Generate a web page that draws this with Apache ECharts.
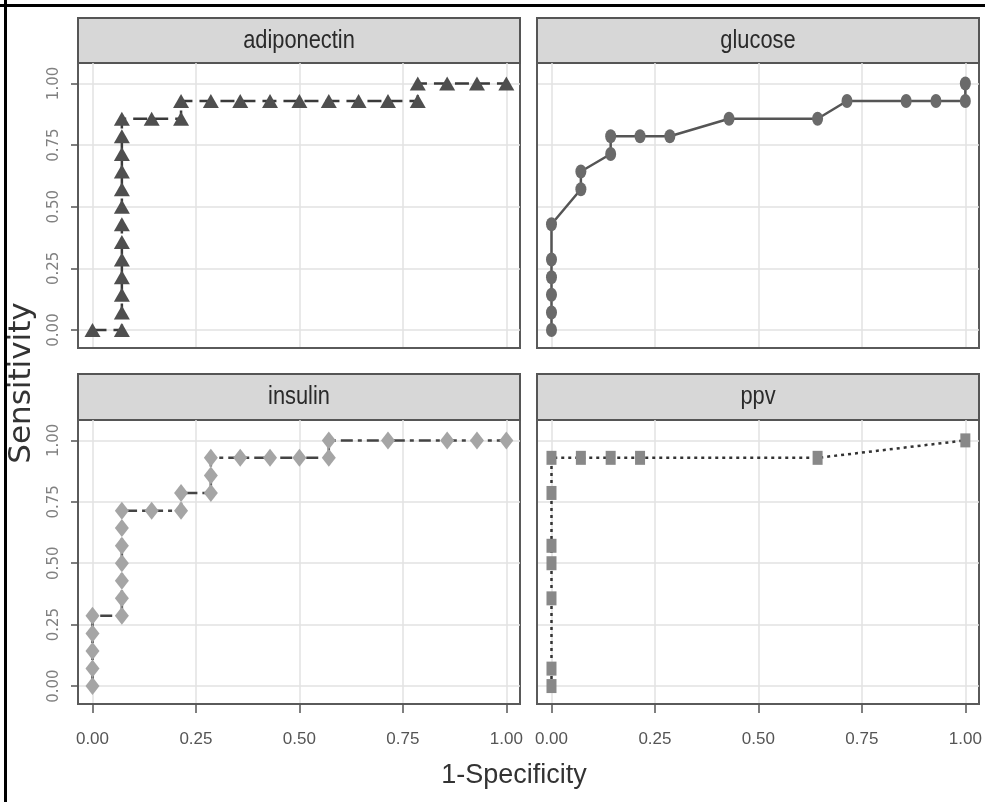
<!DOCTYPE html>
<html>
<head>
<meta charset="utf-8">
<script src="https://cdn.jsdelivr.net/npm/echarts@6/dist/echarts.min.js"></script>
<style>
  html, body { margin: 0; padding: 0; background: #fff; }
  #chart { width: 985px; height: 802px; }
</style>
</head>
<body>
<div id="chart"></div>
<script>
// facet names, in panel order
const panels = ["adiponectin", "glucose", "insulin", "ppv"];
const tickValues = [0, 0.25, 0.5, 0.75, 1];
const tickLabels = ["0.00", "0.25", "0.50", "0.75", "1.00"];

// ROC points: 1-specificity (fpr) and sensitivity (tpr)
const adiponectinFpr = [0, 0.071, 0.071, 0.071, 0.071, 0.071, 0.071, 0.071, 0.071, 0.071, 0.071, 0.071, 0.071, 0.071, 0.143, 0.214, 0.214, 0.286, 0.357, 0.429, 0.5, 0.571, 0.643, 0.714, 0.786, 0.786, 0.857, 0.929, 1];
const adiponectinTpr = [0, 0, 0.071, 0.143, 0.214, 0.286, 0.357, 0.429, 0.5, 0.571, 0.643, 0.714, 0.786, 0.857, 0.857, 0.857, 0.929, 0.929, 0.929, 0.929, 0.929, 0.929, 0.929, 0.929, 0.929, 1, 1, 1, 1];

const glucoseFpr = [0, 0, 0, 0, 0, 0, 0.071, 0.071, 0.143, 0.143, 0.214, 0.286, 0.429, 0.643, 0.714, 0.857, 0.929, 1, 1];
const glucoseTpr = [0, 0.071, 0.143, 0.214, 0.286, 0.429, 0.571, 0.643, 0.714, 0.786, 0.786, 0.786, 0.857, 0.857, 0.929, 0.929, 0.929, 0.929, 1];

const insulinFpr = [0, 0, 0, 0, 0, 0.071, 0.071, 0.071, 0.071, 0.071, 0.071, 0.071, 0.143, 0.214, 0.214, 0.286, 0.286, 0.286, 0.357, 0.429, 0.5, 0.571, 0.571, 0.714, 0.857, 0.929, 1];
const insulinTpr = [0, 0.071, 0.143, 0.214, 0.286, 0.286, 0.357, 0.429, 0.5, 0.571, 0.643, 0.714, 0.714, 0.714, 0.786, 0.786, 0.857, 0.929, 0.929, 0.929, 0.929, 0.929, 1, 1, 1, 1, 1];

const ppvFpr = [0, 0, 0, 0, 0, 0, 0, 0.071, 0.143, 0.214, 0.643, 1];
const ppvTpr = [0, 0.071, 0.357, 0.5, 0.571, 0.786, 0.929, 0.929, 0.929, 0.929, 0.929, 1];

const chart = echarts.init(document.getElementById("chart"));

// panel boxes (plot area) and strip heights
const boxes = [
  { left: 78, top: 63, width: 442, height: 285 },
  { left: 537, top: 63, width: 442, height: 285 },
  { left: 78, top: 420, width: 442, height: 284 },
  { left: 537, top: 420, width: 442, height: 284 }
];
const stripH = [45, 45, 46, 46];

const looks = [
  { symbol: "triangle", size: [16, 14], fill: "#4f4f4f", line: "#3a3a3a", type: [14, 7] },
  { symbol: "circle", size: [11, 14], fill: "#6a6a6a", line: "#555", type: "solid" },
  { symbol: "diamond", size: [14, 18], fill: "#a5a5a5", line: "#444", type: [12, 5, 4, 5] },
  { symbol: "rect", size: [10, 14], fill: "#888", line: "#333", type: [3, 4] }
];
const xs = [adiponectinFpr, glucoseFpr, insulinFpr, ppvFpr];
const ys = [adiponectinTpr, glucoseTpr, insulinTpr, ppvTpr];

const labelOf = v => {
  const i = tickValues.findIndex(t => Math.abs(t - v) < 1e-9);
  return i < 0 ? "" : tickLabels[i];
};

const grid = boxes.map(b => ({
  left: b.left, top: b.top, width: b.width, height: b.height,
  show: true, borderColor: "#5a5a5a", borderWidth: 2, backgroundColor: "#fff"
}));

const xAxis = boxes.map((b, i) => ({
  gridIndex: i,
  type: "value",
  position: "bottom",
  min: -0.035, max: 1.033,
  axisLine: { show: true, onZero: false, lineStyle: { color: "#5a5a5a", width: 2 } },
  axisTick: {
    show: i >= 2, customValues: tickValues, length: 9,
    lineStyle: { color: "#555", width: 1.5 }
  },
  axisLabel: {
    show: i >= 2, customValues: tickValues, formatter: labelOf, margin: 27,
    color: "#555", fontSize: 17,
    fontFamily: "'Liberation Sans Narrow', 'Liberation Sans', sans-serif"
  },
  splitLine: { show: true, lineStyle: { color: "#e2e2e2", width: 1.5 } }
}));

const yAxis = boxes.map((b, i) => ({
  gridIndex: i,
  type: "value",
  position: "left",
  min: -0.073, max: 1.083,
  axisLine: { show: true, onZero: false, lineStyle: { color: "#5a5a5a", width: 2 } },
  axisTick: {
    show: i % 2 === 0, customValues: tickValues, length: 7,
    lineStyle: { color: "#555", width: 1.5 }
  },
  axisLabel: {
    show: i % 2 === 0, customValues: tickValues, formatter: labelOf,
    rotate: 90, margin: 16, color: "#808080", fontSize: 15,
    fontFamily: "'DejaVu Sans', sans-serif"
  },
  splitLine: { show: true, lineStyle: { color: "#e2e2e2", width: 1.5 } }
}));

const series = panels.map((name, i) => ({
  name: name,
  type: "line",
  xAxisIndex: i,
  yAxisIndex: i,
  data: xs[i].map((x, k) => [x, ys[i][k]]),
  symbol: looks[i].symbol,
  symbolSize: looks[i].size,
  showAllSymbol: true,
  itemStyle: { color: looks[i].fill, borderWidth: 0 },
  lineStyle: { color: looks[i].line, width: 2.5, type: looks[i].type },
  z: 3
}));

const graphic = [];
boxes.forEach((b, i) => {
  graphic.push({
    type: "rect",
    shape: { x: b.left, y: b.top - stripH[i], width: b.width, height: stripH[i] },
    style: { fill: "#d7d7d7", stroke: "#555", lineWidth: 2 }
  });
  graphic.push({
    type: "text",
    x: b.left + b.width / 2,
    y: b.top - stripH[i] / 2,
    scaleX: 0.84,
    style: {
      text: panels[i], fill: "#2a2a2a", font: "26px 'Liberation Sans', sans-serif",
      align: "center", verticalAlign: "middle"
    }
  });
});
graphic.push(
  {
    type: "text", x: 22, y: 383, rotation: Math.PI / 2,
    style: {
      text: "Sensitivity", fill: "#333", font: "31px 'DejaVu Sans', sans-serif",
      align: "center", verticalAlign: "middle"
    }
  },
  {
    type: "text", x: 514, y: 776,
    style: {
      text: "1-Specificity", fill: "#333", font: "27px 'Liberation Sans', sans-serif",
      align: "center", verticalAlign: "middle"
    }
  },
  { type: "rect", shape: { x: 0, y: 4, width: 985, height: 3 }, style: { fill: "#000" } },
  { type: "rect", shape: { x: 4, y: 0, width: 3, height: 802 }, style: { fill: "#000" } }
);

chart.setOption({
  animation: false,
  backgroundColor: "#fff",
  grid: grid,
  xAxis: xAxis,
  yAxis: yAxis,
  series: series,
  graphic: graphic
});
</script>
</body>
</html>
